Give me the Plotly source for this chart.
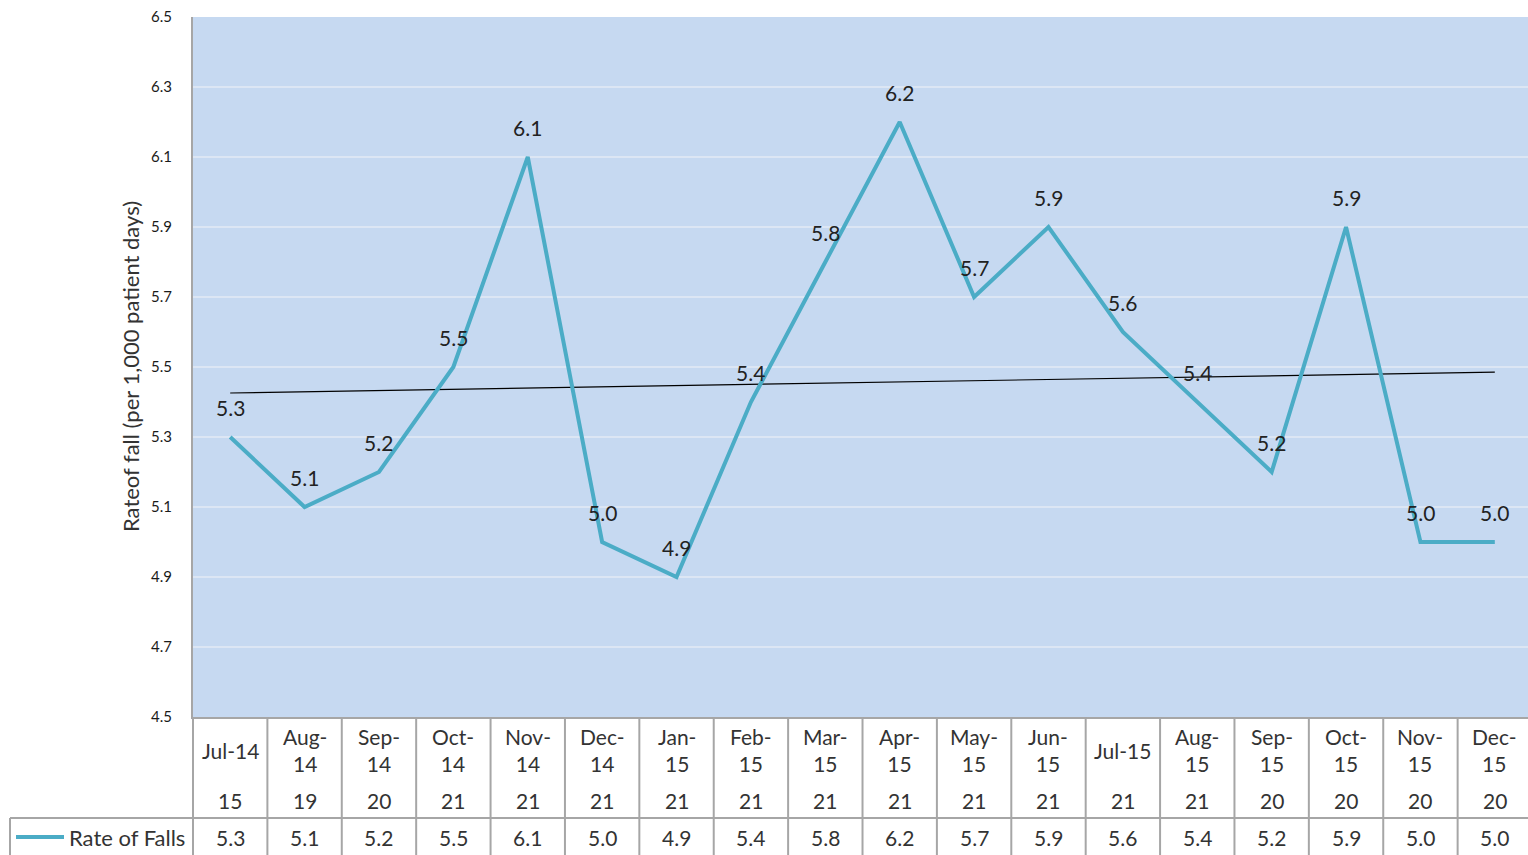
import numpy as np
import plotly.graph_objects as go

months = ["Jul-14", "Aug-14", "Sep-14", "Oct-14", "Nov-14", "Dec-14", "Jan-15", "Feb-15", "Mar-15",
          "Apr-15", "May-15", "Jun-15", "Jul-15", "Aug-15", "Sep-15", "Oct-15", "Nov-15", "Dec-15"]
month_labels = ["Jul-14", "Aug-<br>14", "Sep-<br>14", "Oct-<br>14", "Nov-<br>14", "Dec-<br>14", "Jan-<br>15",
                "Feb-<br>15", "Mar-<br>15", "Apr-<br>15", "May-<br>15", "Jun-<br>15", "Jul-15", "Aug-<br>15",
                "Sep-<br>15", "Oct-<br>15", "Nov-<br>15", "Dec-<br>15"]
sub_labels = ["15", "19", "20", "21", "21", "21", "21", "21", "21", "21", "21", "21", "21", "21", "20", "20", "20", "20"]
rate_of_falls = [5.3, 5.1, 5.2, 5.5, 6.1, 5.0, 4.9, 5.4, 5.8, 6.2, 5.7, 5.9, 5.6, 5.4, 5.2, 5.9, 5.0, 5.0]
y_ticks = [4.5, 4.7, 4.9, 5.1, 5.3, 5.5, 5.7, 5.9, 6.1, 6.3, 6.5]

W, H = 1528, 855
L, R, T = 193, 0, 17
PLOT_BOTTOM = 717
B = H - PLOT_BOTTOM
PH = H - T - B
PW = W - L - R
FONT = "Lato"
LINE = "#4BACC6"
GRIDC = "#A6A6A6"
TXT = "#333333"

def py(p):
    return (PLOT_BOTTOM - p) / PH

def px(p):
    return (p - L) / PW

n = len(months)
xs = np.arange(n)
coef = np.polyfit(xs, rate_of_falls, 1)
trend = np.polyval(coef, xs)

fig = go.Figure()
fig.add_trace(go.Scatter(x=xs, y=trend, mode="lines", line=dict(color="black", width=1.2),
                         hoverinfo="skip", showlegend=False))
fig.add_trace(go.Scatter(x=xs, y=rate_of_falls, mode="lines", line=dict(color=LINE, width=4),
                         name="Rate of Falls", showlegend=False))

ann = []
for i, v in enumerate(rate_of_falls):
    ann.append(dict(x=i, y=v, xref="x", yref="y", text=f"{v:.1f}", showarrow=False, yshift=30,
                    font=dict(family=FONT, size=21, color="#222")))
    ann.append(dict(x=i, y=py(750), xref="x", yref="paper", text=month_labels[i], showarrow=False,
                    font=dict(family=FONT, size=21, color=TXT), align="center", yanchor="middle"))
    ann.append(dict(x=i, y=py(800), xref="x", yref="paper", text=sub_labels[i], showarrow=False,
                    font=dict(family=FONT, size=21, color=TXT), yanchor="middle"))
    ann.append(dict(x=i, y=py(837), xref="x", yref="paper", text=f"{v:.1f}", showarrow=False,
                    font=dict(family=FONT, size=21, color=TXT), yanchor="middle"))

ann.append(dict(x=px(67), y=py(837), xref="paper", yref="paper", text="Rate of Falls", showarrow=False,
                xanchor="left", yanchor="middle", font=dict(family=FONT, size=22, color=TXT)))
ann.append(dict(x=px(130), y=0.5, xref="paper", yref="paper", text="Rateof fall (per 1,000 patient days)",
                showarrow=False, textangle=-90, xanchor="center", yanchor="middle",
                font=dict(family=FONT, size=22, color=TXT)))

shapes = []
for i in range(n):
    shapes.append(dict(type="line", xref="x", yref="paper", x0=i + 0.5, x1=i + 0.5, y0=py(717), y1=py(860),
                       line=dict(color=GRIDC, width=2)))
shapes.append(dict(type="line", xref="paper", yref="paper", x0=0, x1=0, y0=py(717), y1=py(860),
                   line=dict(color=GRIDC, width=2)))
shapes.append(dict(type="line", xref="paper", yref="paper", x0=px(10), x1=px(10), y0=py(818), y1=py(860),
                   line=dict(color=GRIDC, width=2)))
shapes.append(dict(type="line", xref="paper", yref="paper", x0=px(10), x1=1, y0=py(818), y1=py(818),
                   line=dict(color=GRIDC, width=2)))
shapes.append(dict(type="line", xref="paper", yref="paper", x0=px(16), x1=px(64), y0=py(837), y1=py(837),
                   line=dict(color=LINE, width=4)))

fig.update_layout(
    width=W, height=H,
    margin=dict(l=L, r=R, t=T, b=B, pad=0),
    paper_bgcolor="white",
    plot_bgcolor="#C6D9F1",
    annotations=ann,
    shapes=shapes,
    showlegend=False,
    xaxis=dict(range=[-0.5, n - 0.554], showticklabels=False, showgrid=False, zeroline=False,
               showline=True, linecolor=GRIDC, linewidth=2, ticks=""),
    yaxis=dict(range=[4.5, 6.5], tickvals=y_ticks, ticktext=[f"{t:.1f}" for t in y_ticks],
               showgrid=True, gridcolor="#DCE6F4", gridwidth=1.5, zeroline=False,
               showline=True, linecolor=GRIDC, linewidth=2, ticks="", ticklabelstandoff=16,
               tickfont=dict(family=FONT, size=15, color="#1a1a1a")),
)

fig.write_html("out.html", config={"displayModeBar": False},
               post_script="document.body.style.margin='0px';document.body.style.overflow='hidden';")
